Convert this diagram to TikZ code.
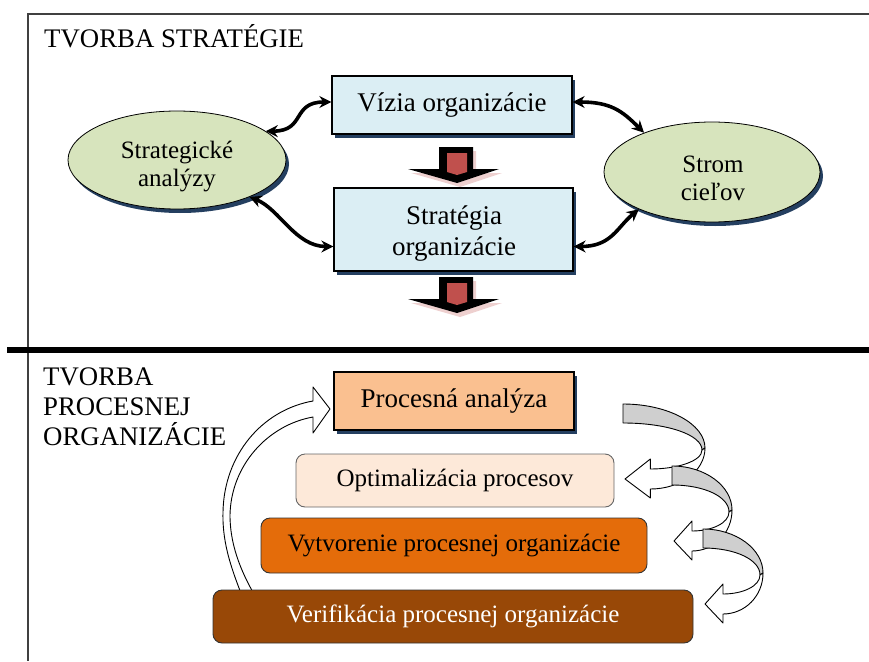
\documentclass[tikz,border=0pt]{standalone}
\usepackage{fontspec}
\setmainfont{Liberation Serif}
\usetikzlibrary{arrows.meta,shapes.geometric,shadows}

\definecolor{boxblue}{HTML}{DBEEF4}
\definecolor{ovalgreen}{HTML}{D7E4BD}
\definecolor{shadownavy}{HTML}{243F60}
\definecolor{arrowred}{HTML}{C0504D}
\definecolor{peach}{HTML}{FAC090}
\definecolor{palepeach}{HTML}{FDE9D9}
\definecolor{orangebox}{HTML}{E46C0A}
\definecolor{brownbox}{HTML}{984807}
\definecolor{curlgray}{HTML}{CFCFCF}
\definecolor{framegray}{HTML}{404040}

\tikzset{
  navyshadow/.style={drop shadow={shadow xshift=3pt,shadow yshift=-4pt,fill=shadownavy,opacity=1}},
  stratbox/.style={draw=black,line width=1.3pt,fill=boxblue,navyshadow,inner sep=0pt,
    align=center,font=\fontsize{27}{31}\selectfont},
  oval/.style={ellipse,draw=black,line width=0.8pt,fill=ovalgreen,navyshadow,inner sep=0pt},
  ovaltext/.style={inner sep=0pt,align=center,font=\fontsize{25}{28}\selectfont},
  boxtext/.style={inner sep=0pt,align=center,font=\fontsize{27}{31}\selectfont},
  link/.style={line width=3.6pt,{Stealth[length=12pt,width=12pt]}-{Stealth[length=12pt,width=12pt]}},
  stage/.style={draw=black!80,line width=0.9pt,rounded corners=9pt,inner sep=0pt,
    font=\fontsize{25}{30}\selectfont},
  heading/.style={anchor=base west,inner sep=0pt,font=\fontsize{26.8}{30}\selectfont},
  % red block arrow pointing down, origin at the top centre of its stem
  downblock/.pic={
    \fill[arrowred!45,opacity=0.6] (-14,4) -- (20,4) -- (20,26) -- (46,26) -- (4,40) -- (-45,26) -- (-14,26) -- cycle;
    \fill[black] (-17,0) -- (17,0) -- (17,22) -- (43,22) -- (1,36) -- (-48,22) -- (-17,22) -- cycle;
    \fill[arrowred] (-9,6) -- (11,6) -- (11,25) -- (1,28) -- (-9,25) -- cycle;
  },
  % curled arrow turning back to the left; #1 is its width
  curl/.pic={
    \pgfmathsetmacro\cW{#1}
    \pgfmathsetmacro\cB{#1/3}
    \filldraw[fill=curlgray,line width=0.9pt,line join=round]
      (0,0) .. controls ({0.55*\cW},0) and (\cW,20) .. (\cW,44)
      -- ({\cW-3},46) .. controls ({\cW-3},31) and ({0.55*\cW},19) .. (0,19) -- cycle;
    \filldraw[fill=white,line width=0.9pt,line join=round]
      (\cW,44) .. controls (\cW,67) and ({\cB+0.55*(\cW-\cB)},85) .. (\cB,85)
      -- (\cB,94) -- (2,75) -- (\cB,55) -- (\cB,65)
      .. controls ({\cB+0.5*(\cW-\cB)},65) and ({\cW-3},57) .. ({\cW-3},46) -- cycle;
  },
}

\begin{document}
\begin{tikzpicture}[x=1pt,y=-1pt]
\useasboundingbox (0,0) rectangle (869,661);

% frame and divider
\draw[framegray,line width=1.5pt] (869,14) -- (28,14) -- (28,661);
\draw[black,line width=5.5pt] (7,350) -- (869,350);

% ---- strategy part ----
\node[heading] (titleA) at (44,48) {TVORBA STRATÉGIE};

\node[stratbox,minimum width=240pt,minimum height=58pt] (vizia) at (452,105) {Vízia organizácie};
\node[stratbox,minimum width=239pt,minimum height=83pt] (strat) at (453.5,229.5) {};
\node[boxtext] (stratT) at (454,234) {Stratégia\\organizácie};

\node[oval,minimum width=218pt,minimum height=98pt] (analyzy) at (177,160) {};
\node[ovaltext] (analyzyT) at (177,167) {Strategické\\analýzy};
\node[oval,minimum width=216pt,minimum height=100pt] (strom) at (712,172) {};
\node[ovaltext] (stromT) at (713,178) {Strom\\cieľov};

\draw[link] (analyzy.18) .. controls +(40,0) and +(-40,0) .. ([yshift=3pt]vizia.west);
\draw[link] ([yshift=3pt]vizia.east) .. controls +(38,0) and +(-22,-22) .. (strom.150);
\draw[link] (analyzy.333) .. controls +(30,12) and +(-38,0) .. ([yshift=-17pt]strat.west);
\draw[link] ([yshift=-17pt]strat.east) .. controls +(38,0) and +(-22,18) .. (strom.207);

\pic at (456,147) {downblock};
\pic at (456,277) {downblock};

% ---- process part ----
\node[heading] (titleB1) at (43,385) {TVORBA};
\node[heading] (titleB2) at (43,415) {PROCESNEJ};
\node[heading] (titleB3) at (43,445) {ORGANIZÁCIE};

% return arrow from verification back to analysis
\filldraw[fill=white,line width=0.9pt,line join=round]
  (242,596) .. controls (233,572) and (222,545) .. (223,512)
  .. controls (224,455) and (262,410) .. (313,401)
  -- (313,387) -- (330,409) -- (313,433) -- (313,417)
  .. controls (268,425) and (231,465) .. (230,515)
  .. controls (230,550) and (245,578) .. (255,596) -- cycle;

\pic at (623,404) {curl=82};
\pic at (672,466) {curl=60};
\pic at (703,529) {curl=60};

\node[draw=black,line width=1.1pt,fill=peach,navyshadow,inner sep=0pt,
      minimum width=240pt,minimum height=58pt,font=\fontsize{27}{30}\selectfont]
      (analyza) at (454,401) {Procesná analýza};
\node[stage,fill=palepeach,draw=black!60,minimum width=318pt,minimum height=53pt]
      (optim) at (455,480.5) {Optimalizácia procesov};
\node[stage,fill=orangebox,minimum width=386pt,minimum height=55pt]
      (vytvor) at (454,545.5) {Vytvorenie procesnej organizácie};
\node[stage,fill=brownbox,text=white,minimum width=480pt,minimum height=53pt]
      (verif) at (453,616.5) {Verifikácia procesnej organizácie};
\end{tikzpicture}
\end{document}
